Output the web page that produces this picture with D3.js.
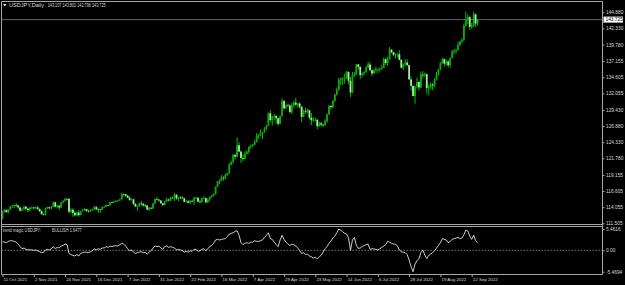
<!DOCTYPE html>
<html>
<head>
<meta charset="utf-8">
<script src="https://cdn.jsdelivr.net/npm/d3@7"></script>
<style>
  html, body { margin: 0; padding: 0; background: #000; }
  svg { display: block; font-family: "Liberation Sans", Arial, sans-serif; }
</style>
</head>
<body>
<div id="chart"></div>
<script>
// USDJPY daily bars, 11 Oct 2021 .. 15 Sep 2022 (one entry per bar)
const opens = [
  112.22,113.31,113.61,113.27,113.68, 114.21,114.31,114.39,114.32,114.01,
  113.50,113.69,114.14,113.82,113.59, 113.95,114.01,113.95,114.02,113.75,
  113.41,112.93,112.84,113.91,114.05, 113.88,114.14,114.83,114.11,114.28,
  114.01,114.82,115.05,115.38,115.36, 113.35,113.65,113.16,112.78,113.21,
  112.80,113.44,113.55,113.75,113.48, 113.38,113.55,113.72,114.06,113.71,
  113.70,113.63,114.07,114.11,114.40, 114.35,114.83,114.80,114.96,115.08,
  115.09,115.30,116.12,116.10,115.86, 115.56,115.20,115.29,114.58,114.18,
  114.21,114.62,114.60,114.32,114.30, 113.68,113.96,113.84,114.66,115.36,
  115.25,115.11,114.66,114.39,114.96, 115.26,115.10,115.56,115.54,116.03,
  115.42,115.59,115.58,115.47,114.90, 114.99,114.73,115.05,114.98,115.52,
  115.54,114.94,114.88,115.46,115.49, 114.82,115.29,115.66,115.87,116.12,
  117.30,118.15,118.30,118.70,118.60, 119.16,119.46,120.80,121.18,122.33,
  122.05,123.85,122.85,121.84,121.70, 122.51,122.80,123.62,123.80,123.96,
  124.34,125.37,125.42,125.66,125.88, 126.43,126.95,128.90,127.84,128.37,
  128.50,128.12,127.24,128.45,130.84, 129.70,130.15,130.13,129.09,130.19,
  130.58,130.26,130.44,129.94,128.35, 129.23,129.13,129.40,128.21,127.79,
  127.87,127.88,126.86,127.34,127.12, 127.10,127.64,128.70,130.05,129.87,
  130.87,131.88,132.63,134.23,134.40, 134.41,134.42,135.47,134.04,132.20,
  134.98,135.05,136.65,136.25,134.95, 135.21,135.45,136.13,136.62,135.72,
  135.20,135.70,135.87,135.93,135.95, 136.11,137.44,136.86,137.43,138.96,
  138.55,138.15,138.21,138.24,137.36, 136.12,136.68,136.94,136.54,134.26,
  133.25,131.63,133.16,133.85,133.00, 135.01,134.95,135.09,132.90,133.04,
  133.45,133.29,134.19,135.06,135.88, 136.90,137.48,136.76,137.13,136.52,
  137.64,138.73,138.78,138.95,139.69, 140.23,140.55,142.77,143.75,144.11,
  142.58,142.85,144.56,143.107
];
const highs = [
  113.49,113.79,113.70,113.76,114.24, 114.44,114.45,114.70,114.42,114.10,
  113.91,114.28,114.21,113.92,114.08, 114.18,114.08,114.16,114.30,113.88,
  113.55,113.03,114.00,114.14,114.12, 114.20,114.97,114.90,114.37,114.40,
  114.86,115.15,115.52,115.45,115.47, 113.90,113.90,113.42,113.36,113.62,
  113.50,113.80,113.95,113.78,113.66, 113.72,113.82,114.25,114.26,113.90,
  113.72,114.16,114.30,114.45,114.43, 114.93,114.95,115.00,115.17,115.20,
  115.41,116.35,116.20,116.10,116.02, 115.85,115.45,115.41,114.67,114.38,
  114.80,115.06,114.73,114.54,114.38, 114.02,114.06,114.70,115.42,115.69,
  115.37,115.18,114.70,115.08,115.54, 115.42,115.68,115.71,116.34,116.11,
  115.69,115.80,115.79,115.54,115.15, 115.20,115.16,115.25,115.70,115.76,
  115.68,115.25,115.56,115.80,115.58, 115.43,115.80,116.05,116.23,117.36,
  118.19,118.45,119.12,119.03,119.41, 119.52,121.04,121.41,122.42,122.44,
  125.10,124.33,123.00,122.42,122.92, 123.05,123.70,123.98,124.05,124.68,
  125.77,125.63,126.32,126.00,126.69, 127.08,129.05,129.41,128.52,128.84,
  128.62,128.20,128.52,131.25,131.05, 130.31,130.44,130.40,130.50,130.84,
  131.35,130.51,130.68,130.04,129.48, 129.79,129.60,129.46,128.94,128.26,
  128.24,127.98,127.58,127.55,127.26, 127.94,128.90,130.23,130.22,130.98,
  131.98,132.99,134.48,134.56,134.62, 135.20,135.59,135.47,134.68,135.44,
  135.44,136.71,136.71,136.31,135.36, 135.56,136.38,137.00,136.99,135.83,
  135.94,136.28,136.00,136.18,136.57, 137.75,137.68,137.87,139.38,139.05,
  138.60,138.39,138.41,138.88,137.47, 136.77,137.47,137.46,136.58,134.69,
  133.28,133.20,134.55,134.02,135.50, 135.58,135.34,135.23,133.48,133.79,
  133.70,134.46,135.46,135.93,137.00, 137.67,137.58,137.38,137.29,137.73,
  138.90,139.07,139.06,140.23,140.38, 140.79,143.08,144.99,144.55,144.30,
  143.20,144.96,144.70,143.801
];
const lows = [
  112.12,113.21,113.18,113.11,113.66, 113.91,113.87,114.10,113.76,113.41,
  113.43,113.65,113.50,113.26,113.42, 113.76,113.64,113.72,113.70,113.30,
  112.91,112.73,112.75,113.76,113.73, 113.74,114.04,114.05,113.85,113.59,
  113.90,114.65,114.90,115.14,113.06, 113.14,112.53,112.60,112.66,112.54,
  112.76,113.36,113.43,113.27,113.18, 113.30,113.46,113.58,113.62,113.14,
  113.14,113.56,113.94,114.06,114.25, 114.28,114.65,114.70,114.86,114.94,
  115.04,115.25,115.75,115.69,115.49, 115.07,115.10,114.35,114.08,113.49,
  114.12,114.33,114.06,114.05,113.63, 113.47,113.70,113.76,114.54,115.14,
  114.89,114.63,114.15,114.36,114.93, 114.98,115.05,115.38,115.03,115.23,
  114.97,115.32,115.31,114.80,114.84, 114.70,114.52,114.85,114.40,115.33,
  114.87,114.65,114.72,115.33,114.65, 114.72,115.03,115.55,115.76,116.07,
  117.21,117.70,118.12,118.24,118.47, 118.98,119.27,120.63,120.95,121.58,
  121.95,122.78,121.03,121.28,121.61, 122.41,122.53,123.27,123.52,123.84,
  124.30,124.86,125.27,124.84,125.83, 126.25,126.88,127.47,126.95,127.83,
  127.26,126.94,127.12,128.38,129.37, 129.60,129.93,128.92,128.76,129.81,
  130.12,129.78,129.63,127.52,128.30, 128.83,128.86,127.92,127.03,127.55,
  127.62,126.36,126.77,126.81,126.75, 126.87,127.40,128.68,129.51,129.70,
  130.70,131.70,132.48,133.37,133.38, 133.59,134.30,133.51,131.50,132.10,
  134.65,134.90,135.78,134.28,134.61, 134.92,135.30,136.07,135.56,134.75,
  135.10,135.33,135.25,135.48,135.73, 136.04,136.56,136.35,137.40,138.37,
  137.95,137.57,137.79,137.30,135.99, 135.75,136.37,136.36,134.22,132.51,
  131.60,130.40,132.82,132.52,132.87, 134.38,134.65,132.05,131.73,132.73,
  132.56,133.00,134.10,134.80,135.68, 136.72,136.30,136.44,136.18,136.15,
  137.60,138.23,138.33,138.82,139.52, 139.98,140.35,142.58,143.00,142.10,
  142.30,142.55,142.55,142.796
];
const closes = [
  113.31,113.61,113.27,113.68,114.21, 114.31,114.39,114.32,114.01,113.50,
  113.69,114.14,113.82,113.59,113.95, 114.01,113.95,114.02,113.75,113.41,
  112.93,112.84,113.91,114.05,113.88, 114.14,114.83,114.11,114.28,114.01,
  114.82,115.05,115.38,115.36,113.35, 113.65,113.16,112.78,113.21,112.80,
  113.44,113.55,113.75,113.48,113.38, 113.55,113.72,114.06,113.71,113.70,
  113.63,114.07,114.11,114.40,114.35, 114.83,114.80,114.96,115.08,115.09,
  115.30,116.12,116.10,115.86,115.56, 115.20,115.29,114.58,114.18,114.21,
  114.62,114.60,114.32,114.30,113.68, 113.96,113.84,114.66,115.36,115.25,
  115.11,114.66,114.39,114.96,115.26, 115.10,115.56,115.54,116.03,115.42,
  115.59,115.58,115.47,114.90,114.99, 114.73,115.05,114.98,115.52,115.54,
  114.94,114.88,115.46,115.49,114.82, 115.29,115.66,115.87,116.12,117.30,
  118.15,118.30,118.70,118.60,119.16, 119.46,120.80,121.18,122.33,122.05,
  123.85,122.85,121.84,121.70,122.51, 122.80,123.62,123.80,123.96,124.34,
  125.37,125.42,125.66,125.88,126.43, 126.95,128.90,127.84,128.37,128.50,
  128.12,127.24,128.45,130.84,129.70, 130.15,130.13,129.09,130.19,130.58,
  130.26,130.44,129.94,128.35,129.23, 129.13,129.40,128.21,127.79,127.87,
  127.88,126.86,127.34,127.12,127.10, 127.64,128.70,130.05,129.87,130.87,
  131.88,132.63,134.23,134.40,134.41, 134.42,135.47,134.04,132.20,134.98,
  135.05,136.65,136.25,134.95,135.21, 135.45,136.13,136.62,135.72,135.20,
  135.70,135.87,135.93,135.95,136.11, 137.44,136.86,137.43,138.96,138.55,
  138.15,138.21,138.24,137.36,136.12, 136.68,136.94,136.54,134.26,133.25,
  131.63,133.16,133.85,133.00,135.01, 134.95,135.09,132.90,133.04,133.45,
  133.29,134.19,135.06,135.88,136.90, 137.48,136.76,137.13,136.52,137.64,
  138.73,138.78,138.95,139.69,140.23, 140.55,142.77,143.75,144.11,142.58,
  142.85,144.56,143.107,143.725
];
// trend magic sub-window line
const trendMagic = [
  2.2,2.1,1.95,2.3,2.45,2.45,2.3,2.1,1.6,0.95,
  0.4,0.6,0.25,0.1,0.15,0.1,0.0,0.1,-0.1,-0.35,
  -0.6,-0.5,0.1,0.25,0.1,0.4,0.95,0.4,0.75,0.6,
  1.1,1.25,1.6,1.45,-0.8,-1.1,-1.3,-1.45,-1.1,-1.45,
  -0.8,-0.6,-0.45,-0.5,-0.6,-0.35,-0.1,0.4,0.1,0.4,
  0.25,0.6,0.6,0.95,0.75,1.1,0.95,1.1,1.2,1.1,
  1.45,1.8,1.6,1.1,0.4,-0.1,0.1,-0.45,-0.8,-0.6,
  -0.45,-0.35,-0.6,-0.5,-0.95,-0.45,-0.1,0.6,1.1,0.95,
  1.1,0.6,0.25,0.95,1.1,0.75,0.95,0.75,0.6,0.1,
  0.25,0.1,-0.1,-0.45,-0.25,-0.45,-0.1,-0.25,0.25,0.25,
  -0.25,-0.1,0.25,0.4,-0.1,0.4,0.95,1.25,1.8,2.65,
  2.8,2.65,2.8,2.9,3.0,3.5,4.15,4.35,4.5,4.85,
  5.0,3.85,1.95,1.45,1.8,1.95,1.8,2.1,2.1,2.45,
  2.3,2.3,2.45,2.65,3.3,3.85,4.5,3.0,2.8,2.1,
  1.45,0.95,2.65,3.85,2.8,2.1,1.6,1.25,1.6,1.45,
  1.1,0.6,-0.1,-0.8,-0.6,-1.1,-0.95,-1.45,-1.65,-2.0,
  -1.8,-2.15,-1.65,-1.3,-0.45,0.4,0.95,1.8,2.4,3.15,
  3.65,4.5,5.4616,5.2,4.7,4.35,4.15,3.2,0.0,2.6,
  3.3,1.25,0.5,0.6,0.95,1.25,1.45,1.6,0.25,0.4,
  0.35,0.25,0.1,0.4,0.75,1.1,1.45,2.3,2.1,1.8,
  1.6,1.6,1.1,0.1,-0.35,-0.5,-0.6,-1.1,-2.5,-4.2,
  -5.4694,-3.5,-2.65,-2.15,-0.6,0.1,-1.2,-2.1,-1.3,-0.95,
  -0.6,-0.1,0.6,1.25,1.95,3.0,2.8,2.65,1.95,2.3,
  2.8,3.0,3.15,3.3,3.0,3.15,4.0,5.2,5.0,3.65,
  2.8,3.9,2.45,1.9477
];

// axis labels
const priceTicks = [144.880,142.330,139.780,137.155,134.605,132.055,129.430,126.880,124.330,121.780,119.155,116.605,114.055,111.505];
const indTicks = [5.4616, 0, -5.4694];
const indTickLabels = ['5.4616', '0.00', '-5.4694'];
const dateTickIndex = [0,16,32,48,64,80,96,112,128,144,160,176,192,208,224,240];
const dateLabels = ['11 Oct 2021','2 Nov 2021','24 Nov 2021','16 Dec 2021','7 Jan 2022','31 Jan 2022','22 Feb 2022','16 Mar 2022','7 Apr 2022','29 Apr 2022','23 May 2022','14 Jun 2022','6 Jul 2022','28 Jul 2022','19 Aug 2022','12 Sep 2022'];
const bidPrice = 143.725;
const headerOHLC = '143.107 143.801 142.796 143.725';
const indicatorTitle = 'trend magic USDJPY:\u00a0\u00a0\u00a0\u00a0\u00a0\u00a0\u00a0\u00a0\u00a0\u00a0BULLISH\u00a01.9477';

const width = 625, height = 285;
const frame = { left: 1.5, right: 602.5, top: 1.5, mainBottom: 224.5, subTop: 226.5, subBottom: 274.5 };
const frameColor = '#a6a6a6';
const textColor = '#d8d8d8';

const svg = d3.select('#chart')
              .append('svg')
              .attr('width', width)
              .attr('height', height);

svg.append('rect').attr('width', width).attr('height', height).attr('fill', '#000');

// scales
const xScale = d3.scaleLinear().domain([0, 240]).range([2.5, 471.7]);
const yScale = d3.scaleLinear().domain([111.505, 144.88]).range([223.3, 12.3]);
const yInd = d3.scaleLinear().domain([-5.4694, 5.4616]).range([271.7, 229]);

svg.append('clipPath').attr('id', 'mainClip')
   .append('rect').attr('x', frame.left).attr('y', frame.top)
   .attr('width', frame.right - frame.left).attr('height', frame.mainBottom - frame.top);

// bid line
svg.append('line')
   .attr('x1', frame.left).attr('x2', frame.right)
   .attr('y1', yScale(bidPrice)).attr('y2', yScale(bidPrice))
   .attr('stroke', '#6f7c8c').attr('stroke-width', 0.8);

// candles
const bars = d3.range(closes.length);
const candles = svg.append('g').attr('clip-path', 'url(#mainClip)');

candles.selectAll('line.wick').data(bars).enter()
  .append('line')
  .attr('class', 'wick')
  .attr('x1', i => xScale(i)).attr('x2', i => xScale(i))
  .attr('y1', i => yScale(highs[i])).attr('y2', i => yScale(lows[i]))
  .attr('stroke', '#00bd00').attr('stroke-width', 1);

candles.selectAll('rect.body').data(bars).enter()
  .append('rect')
  .attr('class', 'body')
  .attr('x', i => xScale(i) - 0.9)
  .attr('width', 1.8)
  .attr('y', i => yScale(Math.max(opens[i], closes[i])))
  .attr('height', i => Math.max(0.7, Math.abs(yScale(opens[i]) - yScale(closes[i]))))
  .attr('fill', i => closes[i] >= opens[i] ? '#14a614' : '#9cef9c');

// trend magic sub window
svg.append('line')
   .attr('x1', frame.left).attr('x2', frame.right)
   .attr('y1', yInd(0)).attr('y2', yInd(0))
   .attr('stroke', '#bdbdbd').attr('stroke-width', 0.6)
   .attr('stroke-dasharray', '1.5,1.5');

const line = d3.line().x((d, i) => xScale(i)).y(d => yInd(d));
svg.append('path')
   .datum(trendMagic)
   .attr('d', line)
   .attr('fill', 'none')
   .attr('stroke', '#ffffff')
   .attr('stroke-width', 0.8);

// window frames
const frameLines = [
  [frame.left, frame.top, frame.right, frame.top],
  [frame.left, frame.top, frame.left, frame.subBottom],
  [frame.right, frame.top, frame.right, frame.subBottom],
  [frame.left, frame.mainBottom, frame.right, frame.mainBottom],
  [frame.left, frame.subTop, frame.right, frame.subTop],
  [frame.left, frame.subBottom, frame.right, frame.subBottom]
];
svg.append('g').selectAll('line').data(frameLines).enter()
  .append('line')
  .attr('x1', d => d[0]).attr('y1', d => d[1])
  .attr('x2', d => d[2]).attr('y2', d => d[3])
  .attr('stroke', frameColor).attr('stroke-width', 1);

// price axis
const priceAxis = svg.append('g')
  .attr('transform', `translate(${frame.right},0)`)
  .call(d3.axisRight(yScale).tickValues(priceTicks).tickSize(2).tickPadding(1.5).tickFormat(d3.format('.3f')));
priceAxis.select('.domain').remove();
priceAxis.selectAll('line').attr('stroke', frameColor);
priceAxis.selectAll('text').attr('fill', textColor).attr('font-size', '4.8px');

// bid price box
svg.append('rect')
   .attr('x', 603.5).attr('y', yScale(bidPrice) - 3)
   .attr('width', 19.5).attr('height', 6)
   .attr('fill', '#ffffff');
svg.append('text')
   .attr('x', 605.5).attr('y', yScale(bidPrice))
   .attr('dy', '0.35em')
   .attr('font-size', '4.8px').attr('fill', '#000')
   .text(bidPrice.toFixed(3));

// indicator axis
const indAxis = svg.append('g')
  .attr('transform', `translate(${frame.right},0)`)
  .call(d3.axisRight(yInd).tickValues(indTicks).tickSize(2).tickPadding(1.5).tickFormat((d, i) => indTickLabels[i]));
indAxis.select('.domain').remove();
indAxis.selectAll('line').attr('stroke', frameColor);
indAxis.selectAll('text').attr('fill', textColor).attr('font-size', '4.8px');

// date axis
const dateAxis = svg.append('g')
  .attr('transform', `translate(0,${frame.subBottom})`)
  .call(d3.axisBottom(xScale).tickValues(dateTickIndex).tickSize(2.5).tickFormat((d, i) => dateLabels[i]));
dateAxis.select('.domain').remove();
dateAxis.selectAll('line').attr('stroke', frameColor);
dateAxis.selectAll('text')
  .attr('fill', textColor).attr('font-size', '4.4px')
  .attr('text-anchor', 'start').attr('x', 0.6).attr('y', 3.2).attr('dy', '0.71em');

// header texts
svg.append('path')
   .attr('d', 'M3,4 L6.4,4 L4.7,6.6 Z')
   .attr('fill', '#e0e0e0');
svg.append('text')
   .attr('x', 9).attr('y', 5.5).attr('dy', '0.35em')
   .attr('font-size', '5.2px').attr('fill', textColor)
   .attr('textLength', 35).attr('lengthAdjust', 'spacingAndGlyphs')
   .text('USDJPY,Daily');
svg.append('text')
   .attr('x', 47.7).attr('y', 5.5).attr('dy', '0.35em')
   .attr('font-size', '5.2px').attr('fill', textColor)
   .attr('textLength', 58).attr('lengthAdjust', 'spacingAndGlyphs')
   .text(headerOHLC);

// indicator title
svg.append('text')
   .attr('x', 2.8).attr('y', 230.2).attr('dy', '0.35em')
   .attr('font-size', '4.8px').attr('fill', textColor)
   .attr('textLength', 79).attr('lengthAdjust', 'spacingAndGlyphs')
   .text(indicatorTitle);
</script>
</body>
</html>
